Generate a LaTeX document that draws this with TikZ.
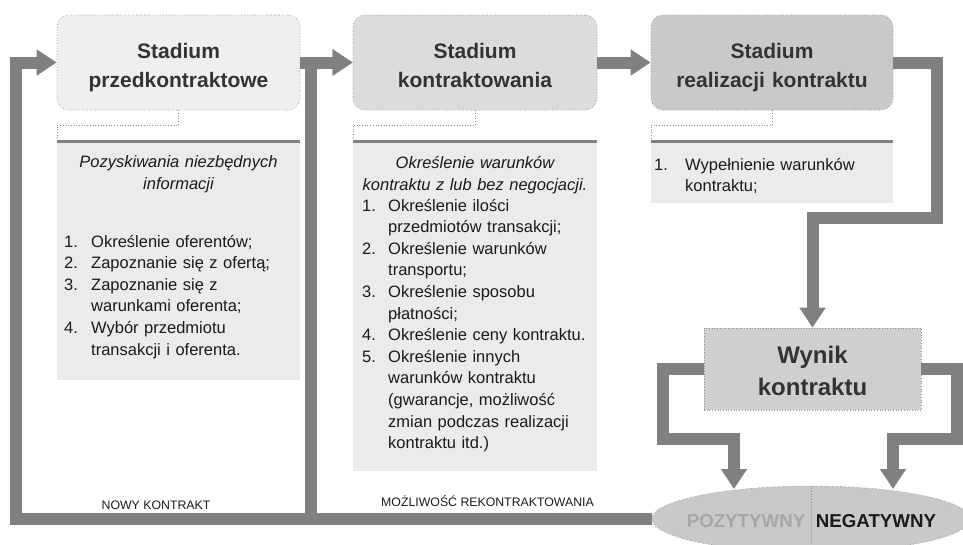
\documentclass[tikz,border=0pt]{standalone}
\usepackage{fontspec}
\setmainfont{Liberation Sans}
\usetikzlibrary{arrows.meta,shapes.geometric}
\definecolor{arr}{HTML}{808080}
\definecolor{bone}{HTML}{EFEFEF}
\definecolor{btwo}{HTML}{DCDCDC}
\definecolor{bthree}{HTML}{C9C9C9}
\definecolor{panelc}{HTML}{EBEBEB}
\definecolor{wync}{HTML}{CFCFCF}
\definecolor{ellc}{HTML}{C9C9C9}
\definecolor{edgec}{HTML}{8C8C8C}
\definecolor{headc}{HTML}{333333}
\definecolor{txtc}{HTML}{1A1A1A}
\definecolor{posc}{HTML}{A6A6A6}
\tikzset{
  stagebox/.style={draw=edgec, dotted, line width=0.7pt, rounded corners=12pt, minimum height=95pt, inner sep=0pt},
  headtxt/.style={font=\fontsize{21}{29}\selectfont\bfseries, text=headc, align=center, text width=240pt, anchor=base, inner sep=0pt},
  panelbox/.style={fill=panelc, draw=none, inner sep=0pt, anchor=north west},
  topline/.style={draw=arr, line width=3pt},
  callout/.style={draw=edgec, dotted, line width=0.7pt},
  titletxt/.style={font=\fontsize{16.5}{22.5}\selectfont\itshape, text=txtc, align=center, text width=240pt, anchor=base, inner sep=0pt},
  listtxt/.style={font=\fontsize{16.5}{21.6}\selectfont, text=txtc, align=left, text width=240pt, anchor=base west, inner sep=0pt},
  flow/.style={draw=arr, line width=12pt, -{Triangle[width=25pt,length=20pt]}},
  wynbox/.style={draw=edgec, dotted, line width=0.7pt, fill=wync, minimum width=217pt, minimum height=82pt, inner sep=0pt},
  wyntxt/.style={font=\fontsize{24}{32}\selectfont\bfseries, text=headc, align=center, text width=215pt, anchor=base, inner sep=0pt},
  outtxt/.style={font=\fontsize{18.7}{22}\selectfont\bfseries, anchor=base, inner sep=0pt},
  smalltxt/.style={font=\fontsize{12.3}{14}\selectfont, text=txtc, anchor=base, inner sep=0pt}
}
\newcommand{\nm}[2]{\makebox[#1][l]{#2}}
\begin{document}
\begin{tikzpicture}[x=1pt,y=-1pt]
\useasboundingbox (0,0) rectangle (963,544);
\clip (0,0) rectangle (963,544);

% stage boxes
\node[stagebox, fill=bone, minimum width=243pt] (b1) at (178.5,62.5) {};
\node[stagebox, fill=btwo, minimum width=244pt] (b2) at (475,62.5) {};
\node[stagebox, fill=bthree, minimum width=242pt] (b3) at (772,62.5) {};
\node[headtxt] (b1t) at (178.5,58) {Stadium\\przedkontraktowe};
\node[headtxt] (b2t) at (475,58) {Stadium\\kontraktowania};
\node[headtxt] (b3t) at (772,58) {Stadium\\realizacji kontraktu};

% panels
\node[panelbox, minimum width=243pt, minimum height=240pt] (p1) at (57,140) {};
\node[panelbox, minimum width=244pt, minimum height=331pt] (p2) at (353,140) {};
\node[panelbox, minimum width=242pt, minimum height=63pt] (p3) at (651,140) {};
\draw[topline] ([yshift=-1.5pt]p1.north west) -- ([yshift=-1.5pt]p1.north east);
\draw[topline] ([yshift=-1.5pt]p2.north west) -- ([yshift=-1.5pt]p2.north east);
\draw[topline] ([yshift=-1.5pt]p3.north west) -- ([yshift=-1.5pt]p3.north east);

% callout lines
\coordinate (c1) at (57,125);
\coordinate (c2) at (353,125);
\coordinate (c3) at (651,125);
\draw[callout] (b1.south) |- (c1) -- (p1.north west);
\draw[callout] (b2.south) |- (c2) -- (p2.north west);
\draw[callout] (b3.south) |- (c3) -- (p3.north west);

% panel texts
\node[titletxt] (p1h) at (178.5,167) {Pozyskiwania niezbędnych\\informacji};
\node[listtxt] (p1l) at (64,247) {%
\nm{27pt}{1.}Określenie oferentów;\\%
\nm{27pt}{2.}Zapoznanie się z ofertą;\\%
\nm{27pt}{3.}Zapoznanie się z\\%
\hspace*{27pt}warunkami oferenta;\\%
\nm{27pt}{4.}Wybór przedmiotu\\%
\hspace*{27pt}transakcji i oferenta.};

\node[titletxt] (p2h) at (475,168) {Określenie warunków\\kontraktu z lub bez negocjacji.};
\node[listtxt] (p2l) at (362,211) {%
\nm{26pt}{1.}Określenie ilości\\%
\hspace*{26pt}przedmiotów transakcji;\\%
\nm{26pt}{2.}Określenie warunków\\%
\hspace*{26pt}transportu;\\%
\nm{26pt}{3.}Określenie sposobu\\%
\hspace*{26pt}płatności;\\%
\nm{26pt}{4.}Określenie ceny kontraktu.\\%
\nm{26pt}{5.}Określenie innych\\%
\hspace*{26pt}warunków kontraktu\\%
\hspace*{26pt}(gwarancje, możliwość\\%
\hspace*{26pt}zmian podczas realizacji\\%
\hspace*{26pt}kontraktu itd.)};

\node[listtxt] (p3l) at (654,170) {%
\nm{31pt}{1.}Wypełnienie warunków\\%
\hspace*{31pt}kontraktu;};

% result box and ellipse
\node[wynbox] (wyn) at (812.5,369) {};
\node[wyntxt] (wynt) at (812.5,363) {Wynik\\kontraktu};
\node[ellipse, draw=edgec, dotted, line width=0.7pt, fill=ellc, minimum width=318pt, minimum height=66pt, inner sep=0pt] (ell) at (811,519) {};
\draw[callout] (ell.north) -- (ell.south);
\node[outtxt, text=posc] (poz) at (746,527) {POZYTYWNY};
\node[outtxt, text=txtc] (neg) at (876,527) {NEGATYWNY};

% connector coordinates
\coordinate (r1) at (937,218);
\coordinate (l1) at (662.5,439);
\coordinate (r2) at (956.5,439);
\coordinate (pin) at (734,489);
\coordinate (nin) at (893,489);
\coordinate (lc1) at (15.5,519);
\coordinate (lc2) at (311,519);

% connectors
\draw[flow] (ell.west) -- (lc1) |- (b1.west);
\draw[flow] (ell.west) -- (lc2) |- (b2.west);
\draw[flow] (b1.east) -- (b2.west);
\draw[flow] (b2.east) -- (b3.west);
\draw[flow] (b3.east) -| (r1) -| (wyn.north);
\draw[flow] (wyn.west) -| (l1) -| (pin);
\draw[flow] (wyn.east) -| (r2) -| (nin);

% labels
\node[smalltxt] (nowy) at (156,509) {NOWY KONTRAKT};
\node[smalltxt] (mozl) at (487.5,506) {MOŻLIWOŚĆ REKONTRAKTOWANIA};
\end{tikzpicture}
\end{document}
